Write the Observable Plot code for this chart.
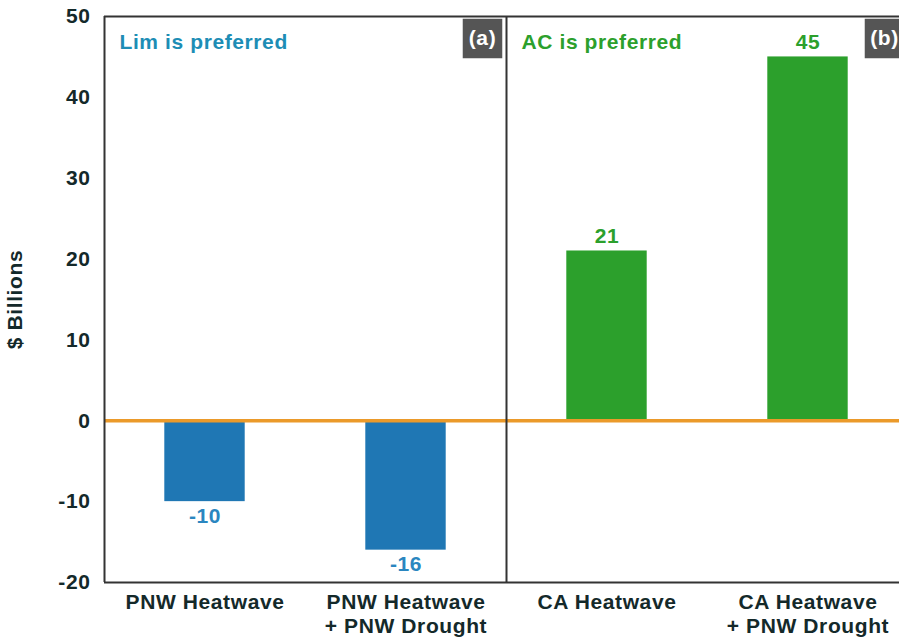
<!DOCTYPE html>
<html>
<head>
<meta charset="utf-8">
<script src="https://cdn.jsdelivr.net/npm/d3@7"></script>
<script src="https://cdn.jsdelivr.net/npm/@observablehq/plot@0.6"></script>
<style>
  html, body { margin: 0; padding: 0; background: #fff; overflow: hidden; }
  #chart svg { display: block; font-family: "Liberation Sans", Arial, sans-serif; }
  #chart svg text { letter-spacing: 0.6px; }
</style>
</head>
<body>
<div id="chart"></div>
<script>
// ---- data ----
const categories = ["PNW Heatwave", "PNW Heatwave\n+ PNW Drought", "CA Heatwave", "CA Heatwave\n+ PNW Drought"];
const values = [-10, -16, 21, 45];
const valueLabels = ["-10", "-16", "21", "45"];
const panelTitles = ["Lim is preferred", "AC is preferred"];
const panelTags = ["(a)", "(b)"];
const yTicks = [-20, -10, 0, 10, 20, 30, 40, 50];
const yDomain = [-20, 50];

// ---- styles ----
const blue = "#1f77b4", green = "#2ca02c", orange = "#eb9a2a";
const labelBlue = "#2a86c0", titleBlue = "#1d8db5";
const ink = "#14292a", frameColor = "#333333", tagFill = "#555555";
const fs = 21;

const bars = categories.map((c, i) => ({i, cat: c, value: values[i], label: valueLabels[i]}));
const perPanel = categories.length / panelTitles.length;
const panels = panelTitles.map((t, p) => ({start: p * perPanel, end: (p + 1) * perPanel, title: t, tag: panelTags[p], color: p === 0 ? titleBlue : green}));
const boundaries = d3.range(0, categories.length + 1, perPanel);
const barHalf = 0.2;

const chart = Plot.plot({
  width: 899,
  height: 639,
  marginLeft: 104,
  marginRight: -9,
  marginTop: 16,
  marginBottom: 57,
  style: {fontFamily: "Liberation Sans, Arial, sans-serif", background: "#fff", overflow: "hidden"},
  x: {domain: [0, categories.length]},
  y: {domain: yDomain},
  marks: [
    Plot.rectY(bars, {x1: d => d.i + 0.5 - barHalf, x2: d => d.i + 0.5 + barHalf, y1: 0, y2: "value", fill: d => d.value < 0 ? blue : green}),
    Plot.ruleY([0], {x1: 0, x2: categories.length, stroke: orange, strokeWidth: 3.5}),
    Plot.ruleX(boundaries, {y1: yDomain[0], y2: yDomain[1], stroke: frameColor, strokeWidth: 2}),
    Plot.ruleY(yDomain, {x1: 0, x2: categories.length, stroke: frameColor, strokeWidth: 2}),
    Plot.text(bars.filter(d => d.value < 0), {x: d => d.i + 0.5, y: "value", text: "label", lineAnchor: "top", dy: 6, fill: labelBlue, fontSize: fs, fontWeight: "bold"}),
    Plot.text(bars.filter(d => d.value >= 0), {x: d => d.i + 0.5, y: "value", text: "label", lineAnchor: "bottom", dy: -8, fill: green, fontSize: fs, fontWeight: "bold"}),
    Plot.text(panels, {x: "start", text: "title", frameAnchor: "top", textAnchor: "start", lineAnchor: "middle", dx: 15, dy: 26, fill: "color", fontSize: fs, fontWeight: "bold"}),
    Plot.dot(panels, {x: "end", frameAnchor: "top", dx: -24, dy: 22, symbol: "square", r: 22.3, fill: tagFill, stroke: null}),
    Plot.text(panels, {x: "end", text: "tag", frameAnchor: "top", lineAnchor: "middle", dx: -24, dy: 22, fill: "white", fontSize: fs, fontWeight: "bold"}),
    Plot.axisY({ticks: yTicks, tickFormat: d => String(d), tickSize: 0, tickPadding: 14, fontSize: fs, fontWeight: "bold", color: ink, label: "$ Billions", labelAnchor: "center", labelArrow: "none", labelOffset: 97}),
    Plot.axisX({ticks: categories.map((_, i) => i + 0.5), tickFormat: d => categories[Math.floor(d)], tickSize: 0, tickPadding: 9, fontSize: fs, fontWeight: "bold", color: ink, lineHeight: 1.15, label: null})
  ]
});
document.getElementById("chart").appendChild(chart);
</script>
</body>
</html>
